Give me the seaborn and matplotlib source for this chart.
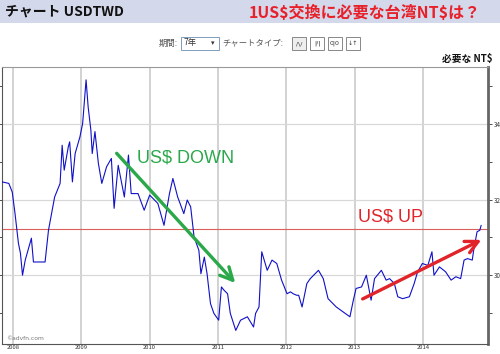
import matplotlib
matplotlib.use("Agg")
import matplotlib.pyplot as plt
import seaborn as sns
import pandas as pd
from matplotlib.patches import Rectangle

# ---- data (decimal year, TWD per USD) ----
years = [2007.84, 2007.94, 2007.99, 2008.03, 2008.08, 2008.11, 2008.14, 2008.18, 2008.27, 2008.30,
         2008.47, 2008.52, 2008.61, 2008.69, 2008.72, 2008.75, 2008.81, 2008.83, 2008.87, 2008.91,
         2008.98, 2009.02, 2009.07, 2009.10, 2009.14, 2009.16, 2009.20, 2009.25, 2009.30, 2009.37,
         2009.44, 2009.48, 2009.54, 2009.63, 2009.69, 2009.73, 2009.83, 2009.92, 2010.00, 2010.12,
         2010.21, 2010.29, 2010.34, 2010.41, 2010.50, 2010.55, 2010.60, 2010.65, 2010.72, 2010.75,
         2010.80, 2010.84, 2010.89, 2010.94, 2011.01, 2011.05, 2011.09, 2011.14, 2011.18, 2011.26,
         2011.33, 2011.43, 2011.52, 2011.55, 2011.60, 2011.64, 2011.72, 2011.79, 2011.86, 2011.93,
         2012.01, 2012.06, 2012.10, 2012.15, 2012.18, 2012.23, 2012.30, 2012.35, 2012.47, 2012.54,
         2012.61, 2012.73, 2012.83, 2012.93, 2012.98, 2013.02, 2013.10, 2013.17, 2013.24, 2013.29,
         2013.39, 2013.46, 2013.51, 2013.58, 2013.63, 2013.70, 2013.80, 2013.87, 2013.92, 2013.99,
         2014.07, 2014.13, 2014.16, 2014.24, 2014.33, 2014.41, 2014.48, 2014.55, 2014.60, 2014.65,
         2014.72, 2014.74, 2014.79, 2014.83, 2014.85]
rates = [32.47, 32.43, 32.20, 31.64, 30.85, 30.58, 30.00, 30.40, 30.98, 30.35,
         30.35, 31.19, 32.07, 32.43, 33.44, 32.78, 33.40, 33.53, 32.47, 33.22,
         33.66, 34.02, 35.17, 34.46, 33.84, 33.22, 33.80, 32.96, 32.43, 32.87,
         33.09, 31.77, 32.91, 32.07, 33.18, 32.16, 32.16, 31.72, 32.12, 31.90,
         31.32, 32.16, 32.56, 32.07, 31.63, 31.99, 31.81, 31.01, 30.66, 30.04,
         30.48, 30.04, 29.25, 28.99, 28.81, 29.69, 29.60, 29.51, 28.99, 28.54,
         28.81, 28.90, 28.63, 28.99, 29.16, 30.62, 30.13, 30.40, 30.31, 29.87,
         29.51, 29.56, 29.51, 29.47, 29.47, 29.16, 29.78, 29.91, 30.13, 29.91,
         29.38, 29.16, 29.03, 28.90, 29.34, 29.65, 29.69, 30.00, 29.34, 29.91,
         30.13, 29.87, 29.91, 29.78, 29.43, 29.38, 29.43, 29.78, 30.09, 30.31,
         30.26, 30.62, 30.00, 30.22, 30.09, 29.87, 29.96, 29.91, 30.40, 30.44,
         30.40, 30.66, 31.15, 31.19, 31.32]
year_ticks = [2008, 2009, 2010, 2011, 2012, 2013, 2014]
year_labels = ["2008", "2009", "2010", "2011", "2012", "2013", "2014"]
y_major = [30, 32, 34]
y_minor = [29, 31, 33, 35]
ref_level = 31.22
down_arrow = [(2009.49, 33.28), (2011.28, 29.74)]
up_arrow = [(2013.08, 29.34), (2014.89, 30.97)]

df = pd.DataFrame({"year": years, "rate": rates})

sns.set_style("white")
plt.rcParams["font.family"] = ["Noto Sans CJK JP", "DejaVu Sans"]

fig = plt.figure(figsize=(5.0, 3.54), dpi=100)
W, H = 500, 354

def fx(px):
    return px / W

def fy(py):
    return 1 - py / H

# header band
fig.patches.append(Rectangle((0, fy(23)), 1, 23 / H, transform=fig.transFigure,
                             facecolor="#d3d8ea", edgecolor="none", zorder=0))
fig.text(fx(5), fy(12), "チャート USDTWD", fontsize=10, fontweight="bold",
         color="#111111", va="center", ha="left")
fig.text(fx(481), fy(13), "1US\\$交換に必要な台湾NT\\$は？", fontsize=11.5, fontweight="bold",
         color="#e8202a", va="center", ha="right")

# controls row
fig.text(fx(178), fy(43), "期間:", fontsize=6, color="#555555", va="center", ha="right")
fig.patches.append(Rectangle((fx(181), fy(50)), 38 / W, 13 / H, transform=fig.transFigure,
                             facecolor="white", edgecolor="#7f9db9", lw=0.7))
fig.text(fx(184), fy(43), "7年", fontsize=6, color="#333333", va="center", ha="left")
fig.text(fx(213), fy(43), "▾", fontsize=5, color="#333333", va="center", ha="center",
         family="DejaVu Sans")
fig.text(fx(222), fy(43), "チャートタイプ:", fontsize=6, color="#555555", va="center", ha="left")
for i, lab in enumerate(["/\\/", "|/|", "0|0", "↓↑"]):
    x0 = 292 + i * 18
    fig.patches.append(Rectangle((fx(x0), fy(50)), 14 / W, 13 / H, transform=fig.transFigure,
                                 facecolor="white" if i else "#eeeeee",
                                 edgecolor="#888888", lw=0.7))
    fig.text(fx(x0 + 7), fy(43.5), lab, fontsize=4.5, color="#333333", va="center",
             ha="center", family="DejaVu Sans")
fig.text(fx(493), fy(59), "必要な NT$", fontsize=7, fontweight="bold", color="#111111",
         va="center", ha="right")

# main axes
ax = fig.add_axes([fx(2), fy(344), (488 - 2) / W, (344 - 67) / H])
ax.set_facecolor("white")
for xv in year_ticks:
    ax.axvline(xv, color="#d2d2d2", lw=1.4, zorder=0)
for yv in y_major:
    ax.axhline(yv, color="#d8d8d8", lw=0.9, zorder=0)
ax.axhline(ref_level, color="#d9605a", lw=0.8, zorder=1)

sns.lineplot(data=df, x="year", y="rate", ax=ax, color="#1010c8", lw=0.8,
             estimator=None, zorder=3)

ax.set_xlim(2007.84, 2014.95)
ax.set_ylim(28.18, 35.51)
ax.set_xlabel("")
ax.set_ylabel("")

ax.set_xticks(year_ticks)
ax.set_xticklabels(year_labels)
ax.tick_params(axis="x", labelsize=4.2, colors="#333333", length=0, pad=0.8, width=0.6)

ax.yaxis.tick_right()
ax.set_yticks(y_major)
ax.set_yticks(y_minor, minor=True)
ax.set_yticklabels([str(v) for v in y_major])
ax.tick_params(axis="y", which="both", labelsize=4.5, colors="#333333", length=3,
               width=0.6, pad=1, left=True, right=True)

for side in ["left", "bottom", "top"]:
    ax.spines[side].set_color("#555555")
    ax.spines[side].set_linewidth(0.8)
ax.spines["top"].set_color("#999999")
ax.spines["right"].set_color("#666666")
ax.spines["right"].set_linewidth(2.0)

ax.text(0.008, 0.012, "©advfn.com", transform=ax.transAxes, fontsize=4.3,
        color="#777777", ha="left", va="bottom", family="DejaVu Sans")

# annotations
ax.annotate("", xy=down_arrow[1], xytext=down_arrow[0],
            arrowprops=dict(arrowstyle="->,head_length=0.9,head_width=0.45",
                            color="#2aa84a", lw=2.4), zorder=5)
ax.text(2010.53, 33.1, "US$ DOWN", color="#2aa84a", fontsize=13, ha="center", va="center",
        family="Liberation Sans")
ax.annotate("", xy=up_arrow[1], xytext=up_arrow[0],
            arrowprops=dict(arrowstyle="->,head_length=0.9,head_width=0.45",
                            color="#e0242a", lw=2.4), zorder=5)
ax.text(2013.53, 31.53, "US$ UP", color="#e0242a", fontsize=13, ha="center", va="center",
        family="Liberation Sans")

fig.savefig("out.png", dpi=100)
